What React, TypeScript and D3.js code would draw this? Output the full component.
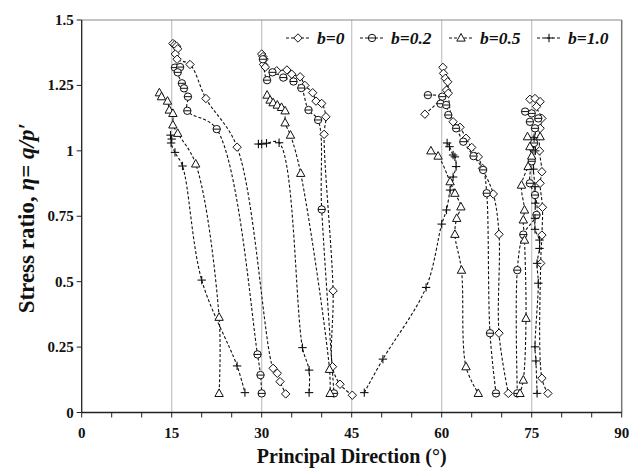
import React from "react";
import * as d3 from "d3";

type Pt = [number, number];

// Principal direction (deg), stress ratio
const b0_s1: Pt[] = [[15.2,1.41],[15.5,1.405],[15.8,1.40],[16.0,1.39],[15.6,1.37],[15.9,1.35],[18.05,1.33],[20.7,1.20],[25.9,1.014],[31.9,0.169],[32.6,0.15],[33.05,0.118],[34.0,0.071]];
const b0_s2: Pt[] = [[30.0,1.37],[30.2,1.36],[30.4,1.35],[30.3,1.33],[30.6,1.32],[32.5,1.306],[34.2,1.309],[35.0,1.293],[36.4,1.283],[37.2,1.25],[38.5,1.222],[39.05,1.19],[40.0,1.181],[40.7,1.13],[40.4,1.063],[41.9,0.465],[41.8,0.175],[43.05,0.108],[45.1,0.066]];
const b0_s3: Pt[] = [[57.2,1.14],[60.8,1.232],[60.2,1.319],[60.3,1.296],[60.6,1.277],[61.0,1.264],[61.1,1.22],[61.9,1.111],[63.05,1.09],[64.05,1.048],[65.0,1.013],[66.1,0.977],[66.8,0.933],[68.6,0.835],[69.55,0.681],[69.55,0.303],[71.1,0.073]];
const b0_s4: Pt[] = [[74.7,1.197],[75.55,1.2],[76.4,1.188],[75.8,1.169],[76.7,1.124],[76.4,1.086],[76.3,1.0],[76.7,0.92],[76.4,0.876],[76.8,0.784],[76.7,0.678],[76.5,0.57],[76.7,0.131],[77.7,0.073]];

const b02_s1: Pt[] = [[15.55,1.318],[16.4,1.32],[16.0,1.30],[16.7,1.258],[17.05,1.239],[17.7,1.207],[17.6,1.153],[22.5,1.083],[29.3,0.222],[29.8,0.143],[30.0,0.073]];
const b02_s2: Pt[] = [[30.2,1.35],[30.9,1.27],[31.8,1.30],[33.6,1.28],[35.3,1.265],[36.6,1.24],[37.8,1.156],[39.4,1.118],[40.0,0.776],[42.05,0.073]];
const b02_s3: Pt[] = [[57.7,1.213],[60.1,1.207],[59.8,1.18],[60.75,1.175],[61.1,1.137],[62.4,1.086],[63.6,1.035],[65.3,0.98],[66.9,0.927],[67.5,0.838],[68.05,0.303],[69.05,0.073]];
const b02_s4: Pt[] = [[72.6,0.073],[72.6,0.544],[73.6,0.68],[75.8,0.755],[75.55,0.831],[74.7,0.876],[75.0,0.96],[75.4,1.03],[75.55,1.086],[74.7,1.111],[76.1,1.124],[75.0,1.143],[73.9,1.15]];

const b05_s1: Pt[] = [[12.95,1.222],[13.3,1.207],[14.3,1.19],[14.6,1.156],[15.2,1.143],[15.2,1.099],[16.0,1.067],[19.0,0.95],[22.9,0.364],[22.9,0.073]];
const b05_s2: Pt[] = [[30.9,1.213],[31.4,1.194],[31.9,1.184],[32.6,1.175],[33.3,1.166],[33.9,1.153],[33.9,1.107],[34.8,1.06],[36.5,0.914],[41.3,0.165],[41.4,0.073]];
const b05_s3: Pt[] = [[58.2,1.0],[59.4,0.98],[61.4,0.882],[62.2,0.838],[63.2,0.786],[62.5,0.742],[62.2,0.681],[63.3,0.544],[64.05,0.175],[66.1,0.073]];
const b05_s4: Pt[] = [[74.3,1.054],[76.4,1.054],[74.7,1.016],[75.0,0.98],[74.4,0.94],[73.3,0.869],[73.8,0.774],[73.6,0.736],[73.8,0.659],[74.05,0.36],[73.6,0.124],[73.05,0.073]];

const b10_s1: Pt[] = [[14.8,1.06],[15.0,1.045],[14.9,1.03],[15.55,0.994],[16.8,0.942],[20.0,0.506],[25.9,0.178],[27.2,0.076]];
const b10_s2: Pt[] = [[29.45,1.026],[30.0,1.026],[30.8,1.029],[32.9,1.031],[36.8,0.248],[37.9,0.162],[37.9,0.076]];
const b10_s3: Pt[] = [[47.1,0.076],[50.2,0.204],[57.4,0.478],[60.0,0.72],[60.8,0.774],[61.4,0.85],[61.9,0.90],[62.4,0.94],[62.2,0.977],[61.9,0.984],[61.3,1.016],[60.9,1.03]];
const b10_s4: Pt[] = [[75.9,0.073],[75.7,0.197],[75.55,0.251],[76.1,0.494],[75.9,0.57],[76.3,0.627],[76.3,0.659],[75.55,0.70],[75.55,0.742],[75.6,0.80],[75.55,0.863],[75.3,0.93],[75.6,1.0],[75.4,1.05]];

const seriesNames = ["b=0", "b=0.2", "b=0.5", "b=1.0"];
const seriesMarkers = ["diamond", "circle", "triangle", "plus"];
const seriesSegments: Pt[][][] = [
  [b0_s1, b0_s2, b0_s3, b0_s4],
  [b02_s1, b02_s2, b02_s3, b02_s4],
  [b05_s1, b05_s2, b05_s3, b05_s4],
  [b10_s1, b10_s2, b10_s3, b10_s4],
];

const xTicks = [0, 15, 30, 45, 60, 75, 90];
const xMinorTicks = d3.range(0, 91, 5);
const yTicks = [0, 0.25, 0.5, 0.75, 1, 1.25, 1.5];
const yTickLabels = ["0", "0.25", "0.5", "0.75", "1", "1.25", "1.5"];
const gridX = [15, 30, 45, 60, 75];

const W = 630, H = 468;
const L = 81.7, R = 621.7, T = 20, B = 412.5;
const FONT = "'Liberation Serif', 'Times New Roman', serif";

function Marker({ kind, x, y }: { kind: string; x: number; y: number }) {
  const s = 4.2;
  if (kind === "diamond")
    return <path d={`M${x},${y - s}L${x + s},${y}L${x},${y + s}L${x - s},${y}Z`} fill="white" stroke="#111" strokeWidth={1} />;
  if (kind === "circle")
    return (
      <g>
        <circle cx={x} cy={y} r={3.7} fill="white" stroke="#111" strokeWidth={1} />
        <line x1={x - 3.7} x2={x + 3.7} y1={y} y2={y} stroke="#111" strokeWidth={1} />
      </g>
    );
  if (kind === "triangle")
    return <path d={`M${x},${y - 4.5}L${x + 4.2},${y + 3.1}L${x - 4.2},${y + 3.1}Z`} fill="white" stroke="#111" strokeWidth={1} />;
  return (
    <g stroke="#111" strokeWidth={1.1}>
      <line x1={x - 4.2} x2={x + 4.2} y1={y} y2={y} />
      <line x1={x} x2={x} y1={y - 4.2} y2={y + 4.2} />
    </g>
  );
}

export default function App() {
  const x = d3.scaleLinear().domain([0, 90]).range([L, R]);
  const y = d3.scaleLinear().domain([0, 1.5]).range([B, T]);
  const line = d3
    .line<Pt>()
    .x((d) => x(d[0]))
    .y((d) => y(d[1]))
    .curve(d3.curveCatmullRom.alpha(0.5));

  const legendX = [286, 360, 449, 537];

  return (
    <svg width={W} height={H} style={{ position: "absolute", left: 0, top: 0, background: "white" }} fontFamily={FONT}>
      <rect x={0} y={0} width={W} height={H} fill="white" />
      {gridX.map((g) => (
        <line key={g} x1={x(g)} x2={x(g)} y1={T} y2={B} stroke="#c4c4c4" strokeWidth={1.2} />
      ))}
      <line x1={L} x2={R} y1={T} y2={T} stroke="#8a8a8a" strokeWidth={1.2} />
      <line x1={R} x2={R} y1={T} y2={B} stroke="#777" strokeWidth={1.5} />

      {seriesSegments.map((segs, si) => (
        <g key={si}>
          {segs.map((seg, k) => (
            <path key={k} d={line(seg) || ""} fill="none" stroke="#111" strokeWidth={1.1} strokeDasharray="3,2" />
          ))}
        </g>
      ))}
      {seriesSegments.map((segs, si) => (
        <g key={"m" + si}>
          {segs.flat().map((p, k) => (
            <Marker key={k} kind={seriesMarkers[si]} x={x(p[0])} y={y(p[1])} />
          ))}
        </g>
      ))}

      {/* axes */}
      <line x1={L} x2={R} y1={B} y2={B} stroke="#222" strokeWidth={1.3} />
      <line x1={L} x2={L} y1={T} y2={B} stroke="#222" strokeWidth={1.3} />
      {xMinorTicks.map((t) => (
        <line key={t} x1={x(t)} x2={x(t)} y1={B} y2={B + 5} stroke="#222" strokeWidth={1} />
      ))}
      {yTicks.map((t) => (
        <line key={t} x1={L - 5} x2={L} y1={y(t)} y2={y(t)} stroke="#222" strokeWidth={1} />
      ))}
      {xTicks.map((t) => (
        <text key={t} x={x(t)} y={B + 25} textAnchor="middle" fontSize={15} fontWeight="bold" fill="#111">
          {t}
        </text>
      ))}
      {yTicks.map((t, i) => (
        <text key={t} x={L - 8} y={y(t) + 5} textAnchor="end" fontSize={15} fontWeight="bold" fill="#111">
          {yTickLabels[i]}
        </text>
      ))}
      <text x={(L + R) / 2} y={463} textAnchor="middle" fontSize={20} fontWeight="bold" fill="#111">
        Principal Direction (°)
      </text>
      <text transform={`translate(34,${(T + B) / 2 + 2}) rotate(-90)`} textAnchor="middle" fontSize={23} fontWeight="bold" fill="#111">
        <tspan>Stress ratio, </tspan>
        <tspan fontStyle="italic">η</tspan>
        <tspan>= </tspan>
        <tspan fontStyle="italic">q/p′</tspan>
      </text>

      {/* legend */}
      {seriesNames.map((n, i) => (
        <g key={n}>
          <line x1={legendX[i]} x2={legendX[i] + 24} y1={38} y2={38} stroke="#111" strokeWidth={1} strokeDasharray="3,2" />
          <Marker kind={seriesMarkers[i]} x={legendX[i] + 12} y={38} />
          <text x={legendX[i] + 31} y={44} fontSize={17.5} fontWeight="bold" fontStyle="italic" fill="#111">
            {n}
          </text>
        </g>
      ))}
    </svg>
  );
}
